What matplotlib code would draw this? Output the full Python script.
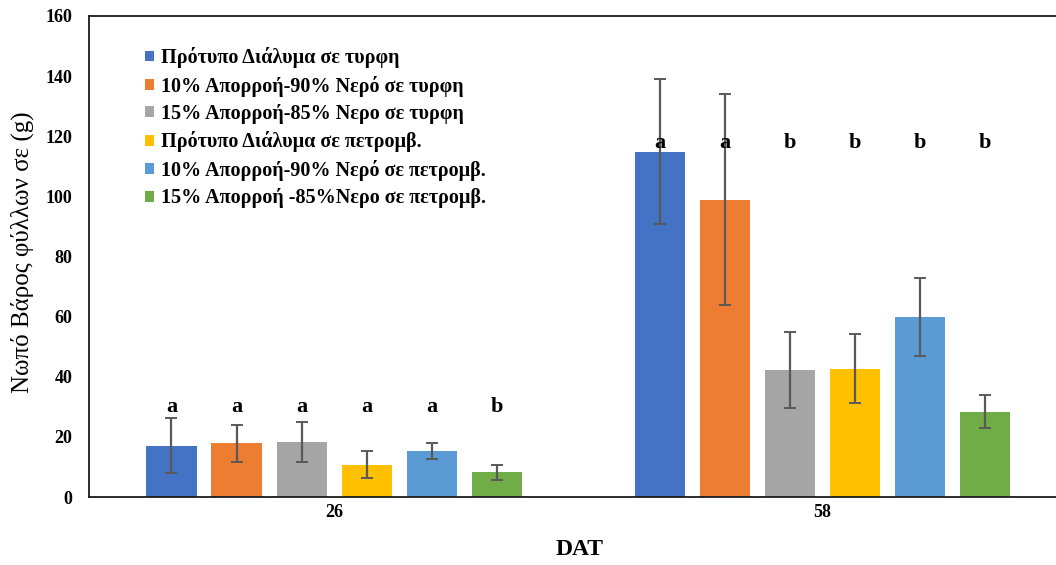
import matplotlib
matplotlib.use("Agg")
import matplotlib.pyplot as plt
import numpy as np

# Data: fresh leaf weight (g) at two sampling dates (days after transplanting)
days = ["26", "58"]
treatments = [
    "Πρότυπο Διάλυμα σε τυρφη",
    "10% Απορροή-90% Νερό σε τυρφη",
    "15% Απορροή-85% Νερο σε τυρφη",
    "Πρότυπο Διάλυμα σε πετρομβ.",
    "10% Απορροή-90% Νερό σε πετρομβ.",
    "15% Απορροή -85%Νερο σε πετρομβ.",
]
colors = ["#4472C4", "#ED7D31", "#A5A5A5", "#FFC000", "#5B9BD5", "#70AD47"]

# mean values per treatment: [day 26, day 58]
means = [
    [17.1, 114.9],
    [17.8, 98.9],
    [18.3, 42.3],
    [10.8, 42.7],
    [15.2, 59.9],
    [8.2, 28.4],
]
errors = [
    [9.2, 24.0],
    [6.0, 35.0],
    [6.5, 12.7],
    [4.4, 11.4],
    [2.6, 13.0],
    [2.4, 5.4],
]
letters = [
    ["a", "a"],
    ["a", "a"],
    ["a", "b"],
    ["a", "b"],
    ["a", "b"],
    ["b", "b"],
]
letter_levels = [30.0, 117.6]

plt.rcParams["font.family"] = ["Liberation Serif", "DejaVu Serif"]

fig = plt.figure(figsize=(10.56, 5.65), dpi=100)
ax = fig.add_axes([89 / 1056, 68 / 565, 967 / 1056, 481 / 565])

n = len(treatments)
step = 0.1332
width = 0.1025
x = np.arange(len(days))

for i in range(n):
    pos = x + (i - (n - 1) / 2) * step
    ax.bar(pos, means[i], width=width, color=colors[i], label=treatments[i],
           zorder=2)
    ax.errorbar(pos, means[i], yerr=errors[i], fmt="none", ecolor="#595959",
                elinewidth=1.6, capsize=4, capthick=1.4, zorder=3)
    for j in range(len(days)):
        ax.text(pos[j], letter_levels[j], letters[i][j], ha="center",
                va="center", fontsize=16, fontweight="bold", zorder=4)

ax.set_xlim(-0.502, 1.479)
ax.set_ylim(0, 160)
ax.set_yticks(np.arange(0, 161, 20))
ax.set_xticks(x)
ax.set_xticklabels(days)

for lbl in ax.get_xticklabels() + ax.get_yticklabels():
    lbl.set_fontweight("bold")
    lbl.set_fontsize(13)
ax.tick_params(axis="y", length=0, pad=12)
ax.tick_params(axis="x", length=0, pad=5)

for side in ["left", "top", "bottom"]:
    ax.spines[side].set_linewidth(1.3)
    ax.spines[side].set_color("#1a1a1a")
ax.spines["right"].set_visible(False)

ax.set_ylabel("Νωπό Βάρος φύλλων σε (g)", fontsize=18, va="center")
ax.yaxis.set_label_coords(-0.069, 0.51)
ax.set_xlabel("DAT", fontsize=17, fontweight="bold", va="center")
ax.xaxis.set_label_coords(0.507, -0.1095)

leg = ax.legend(loc="upper left", bbox_to_anchor=(0.050, 0.952), frameon=False,
                prop={"weight": "bold", "size": 14.5}, handlelength=0.45,
                handleheight=0.45, handletextpad=0.3, labelspacing=0.37,
                borderaxespad=0)

fig.savefig("out.png", dpi=100)
